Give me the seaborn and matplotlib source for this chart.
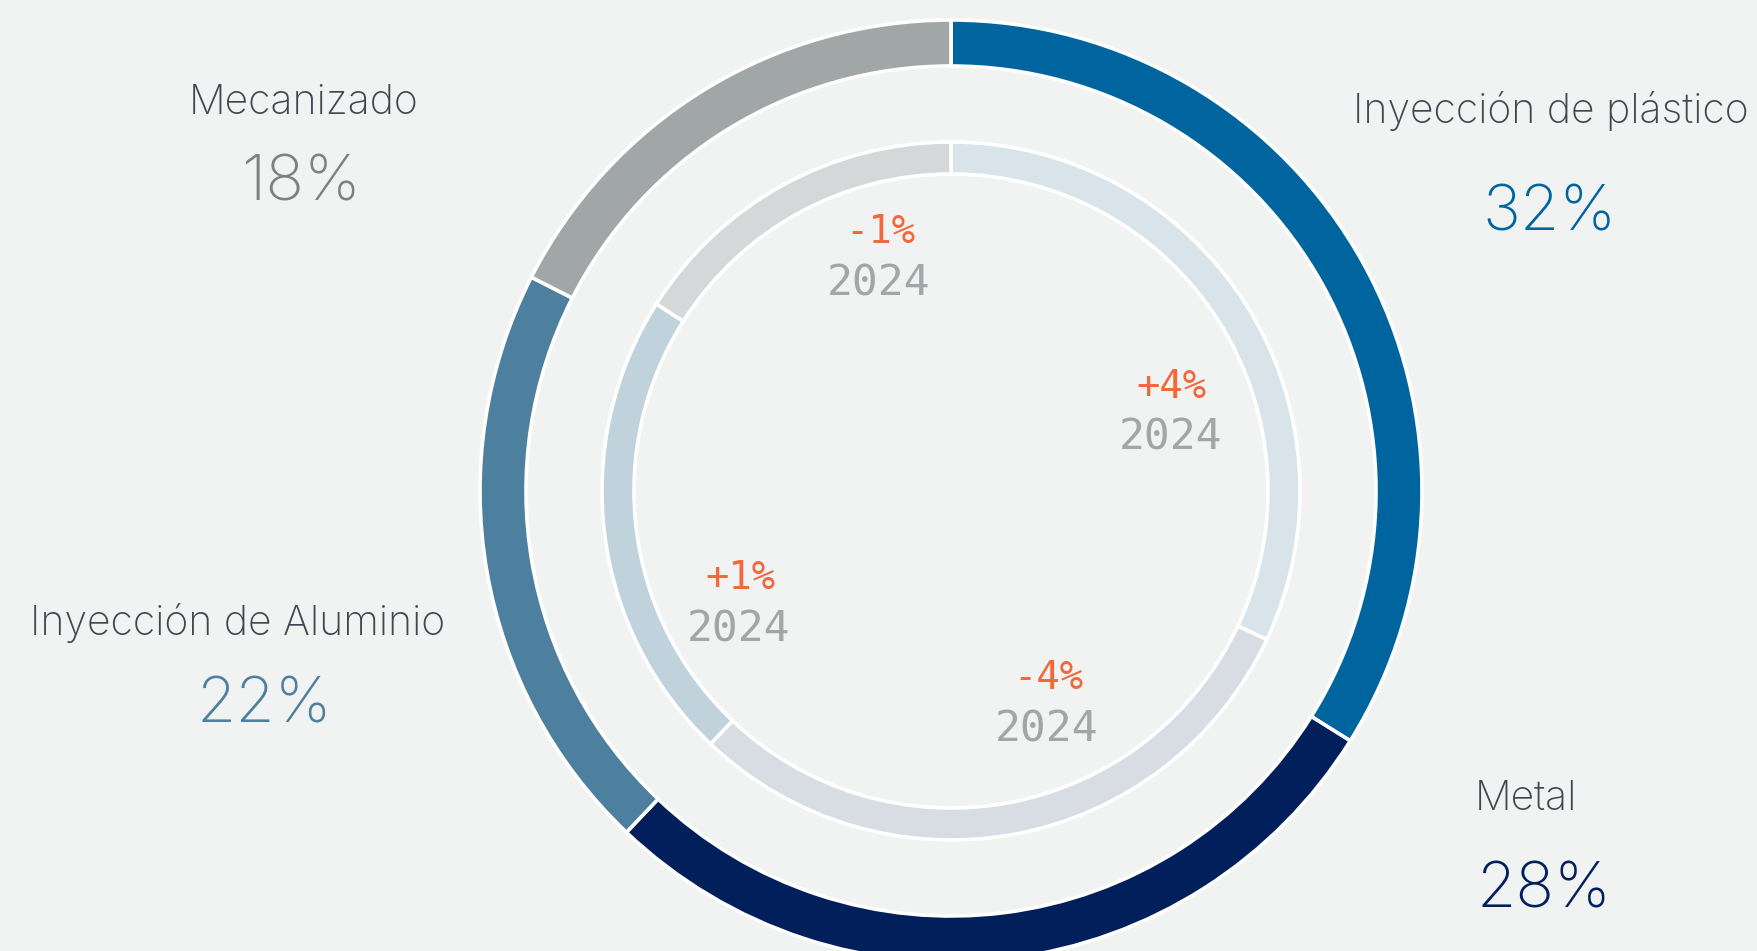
import matplotlib
matplotlib.use("Agg")
import matplotlib.pyplot as plt
import seaborn as sns

# share of each process, outer ring (current) and inner ring (2024) as drawn
categories = ["Inyección de plástico", "Metal", "Inyección de Aluminio", "Mecanizado"]
outer_share = [33.9, 28.2, 20.4, 17.5]
inner_share = [32.0, 30.1, 21.9, 16.0]
share_labels = ["32%", "28%", "22%", "18%"]
change_labels = ["+4%", "-4%", "+1%", "-1%"]
year_label = "2024"

outer_colors = ["#00659e", "#001f5b", "#4c809e", "#a1a7a6"]
inner_colors = ["#d8e4ea", "#d8dce3", "#c0d3dc", "#d4d8d9"]
label_color = "#40474f"
change_color = "#f2683a"
year_color = "#a2a6a6"
bg = "#f1f2f2"

sns.set_style("white", {"axes.facecolor": bg, "figure.facecolor": bg})
plt.rcParams['font.family'] = ['Inter', 'DejaVu Sans']

W, H = 1757, 951
fig = plt.figure(figsize=(W / 100, H / 100), dpi=100)
ax = fig.add_axes([0, 0, 1, 1])
ax.set_facecolor(bg)

cx, cy = 951, H - 491

ax.pie(outer_share, colors=outer_colors, startangle=90, counterclock=False,
       radius=471, center=(cx, cy),
       wedgeprops=dict(width=46, edgecolor="white", linewidth=2.6))
ax.pie(inner_share, colors=inner_colors, startangle=90, counterclock=False,
       radius=349, center=(cx, cy),
       wedgeprops=dict(width=32, edgecolor="white", linewidth=2.6))

ax.set_xlim(0, W)
ax.set_ylim(0, H)
ax.set_aspect("auto")
ax.axis("off")

# category labels with their share, in pixel positions
name_pos = [(1551, 111, "center"), (1475, 799, "left"), (238, 623, "center"), (304, 103, "center")]
pct_pos = [(1549, 214, "center"), (1476, 891, "left"), (264, 706, "center"), (302, 184, "center")]
for name, pct, col, (nx, ny, nha), (px, py, pha) in zip(categories, share_labels, outer_colors, name_pos, pct_pos):
    pcol = col if col != "#a1a7a6" else "#808080"
    ax.text(nx, H - ny, name, ha=nha, va="center", fontsize=29.5, color=label_color, fontweight="light")
    ax.text(px, H - py, pct, ha=pha, va="center", fontsize=46, color=pcol, fontweight="light")

# change vs 2024 inside the inner ring
change_pos = [(1171, 387), (1048, 678), (740, 578), (880, 232)]
for lab, (x, y) in zip(change_labels, change_pos):
    ax.text(x, H - y, lab, ha="center", va="center", fontsize=28, color=change_color,
            family=["DejaVu Sans Mono"])
    ax.text(x - 1, H - y - 51, year_label, ha="center", va="center", fontsize=31, color=year_color,
            family=["DejaVu Sans Mono"])

fig.savefig("out.png", dpi=100, facecolor=bg)
